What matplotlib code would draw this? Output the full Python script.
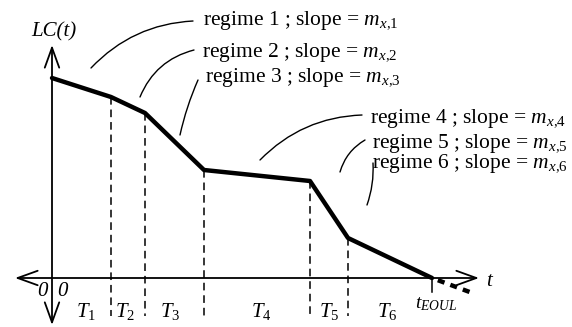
import matplotlib.pyplot as plt
from matplotlib.patches import FancyArrowPatch

plt.rcParams['font.family'] = ['Liberation Serif', 'DejaVu Serif']
plt.rcParams['mathtext.fontset'] = 'custom'
plt.rcParams['mathtext.rm'] = 'Liberation Serif'
plt.rcParams['mathtext.it'] = 'Liberation Serif:italic'

# breakpoints of the piecewise linear capacity curve
t_break = [0, 59, 93, 152, 258, 296, 380]
lc_break = [200, 181, 165, 108, 97, 40, 0]
# extrapolation past end of useful life
t_extra = [380, 423]
lc_extra = [0, -16]

period_labels = ['$\\mathit{T_1}$', '$\\mathit{T_2}$', '$\\mathit{T_3}$',
                 '$\\mathit{T_4}$', '$\\mathit{T_5}$', '$\\mathit{T_6}$']
regimes = ['regime %d ; slope = $\\mathit{m_{x{,}%d}}$' % (i, i) for i in range(1, 7)]

fig = plt.figure(figsize=(5.72, 3.27), dpi=100)
ax = fig.add_axes([0, 0, 1, 1])
ax.set_xlim(-52, 520)
ax.set_ylim(-49, 278)
ax.axis('off')

def axis_arrow(p0, p1):
    a = FancyArrowPatch(p0, p1, arrowstyle='<->,head_length=0.72,head_width=0.26',
                        mutation_scale=20, lw=1.3, color='black',
                        shrinkA=0, shrinkB=0)
    ax.add_patch(a)

axis_arrow((-37, 0), (427, 0))
axis_arrow((0, -47), (0, 233))

# dashed verticals at regime changes
for t, lc in zip(t_break[1:-1], lc_break[1:-1]):
    ax.plot([t, t], [lc, -38], ls=(0, (5, 3.2)), color='black', lw=1.1)
ax.plot([380, 380], [0, -14], color='black', lw=1.1)

ax.plot(t_break, lc_break, color='black', lw=3.2, solid_capstyle='round')
ax.plot(t_extra, lc_extra, color='black', lw=3.2, ls=(1.6, (1.6, 1.4)))

# period labels between breakpoints
nudge = [5, -3, -4, 4, 0, -3]
for i, lab in enumerate(period_labels):
    mid = (t_break[i] + t_break[i + 1]) / 2 + nudge[i]
    ax.text(mid, -33, lab, ha='center', va='center', fontsize=15)

ax.text(384, -26, '$\\mathit{t_{EOUL}}$', ha='center', va='center', fontsize=14)
ax.text(437, -4, 't', style='italic', ha='center', va='center', fontsize=15)
ax.text(-10, -13, '0', style='italic', ha='center', va='center', fontsize=15)
ax.text(10, -13, '0', style='italic', ha='center', va='center', fontsize=15)
ax.text(2, 246, 'LC(t)', style='italic', ha='center', va='center', fontsize=15)

# regime labels with curved leaders
label_pos = [(151, 253), (150, 221), (153, 196), (318, 155), (320, 130), (320, 110)]
leader_start = [(39, 210), (88, 181), (128, 143), (208, 118), (288, 106), (315, 73)]
leader_end = [(141, 257), (142, 228), (146, 198), (310, 163), (313, 138), (321, 115)]
leader_rad = [-0.2, -0.25, -0.05, -0.2, -0.2, 0.1]
for lab, (x, y), p0, p1, r in zip(regimes, label_pos, leader_start, leader_end, leader_rad):
    ax.text(x, y, lab, ha='left', va='baseline', fontsize=15.5)
    ax.annotate('', xy=p1, xytext=p0,
                arrowprops=dict(arrowstyle='-', lw=1.0, color='black',
                                connectionstyle='arc3,rad=%s' % r,
                                shrinkA=0, shrinkB=0))

fig.savefig('out.png', dpi=100)
